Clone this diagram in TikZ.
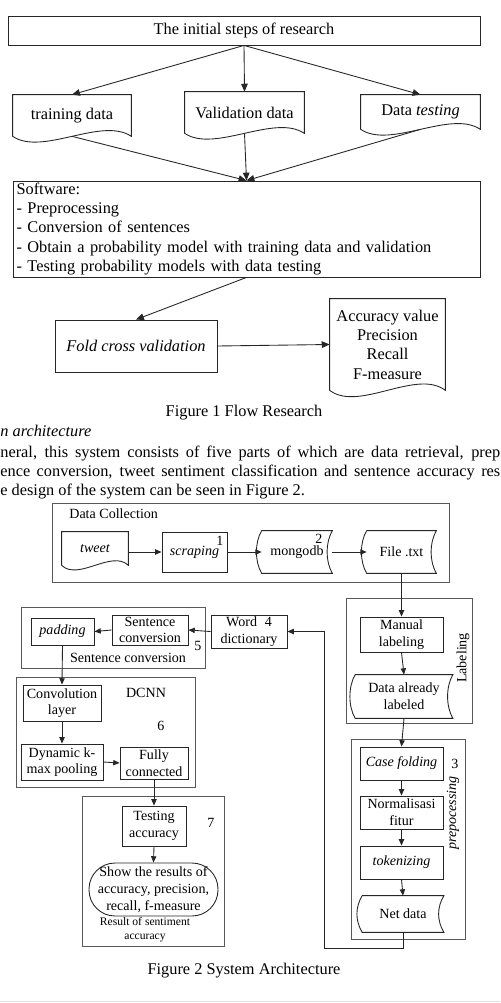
\documentclass[tikz,border=0pt]{standalone}
\usepackage{fontspec}
\setmainfont{Liberation Serif}
\usepackage{tikz}
\usetikzlibrary{arrows.meta,calc}

\newcommand\bigfont{\fontsize{9.3}{11}\selectfont}
\newcommand\smallfont{\fontsize{8}{9.5}\selectfont}
\newcommand\tinyfont{\fontsize{6.6}{8.1}\selectfont}

% document symbol: straight top, wavy bottom
\newcommand\docpath[2]{%
  \draw[pen] (#1.south west) -- (#1.north west) -- (#1.north east) -- (#1.south east)
    .. controls ($(#1.south east)!0.5!(#1.south)+(0,-#2)$) and ($(#1.south west)!0.5!(#1.south)+(0,#2)$) .. (#1.south west);}
% stored data symbol: curved left and right sides
\newcommand\storepath[1]{%
  \draw[pen] (#1.north west) -- (#1.north east)
    .. controls ($(#1.north east)+(-7,12)$) and ($(#1.south east)+(-7,-12)$) .. (#1.south east)
    -- (#1.south west)
    .. controls ($(#1.south west)+(-7,-12)$) and ($(#1.north west)+(-7,12)$) .. (#1.north west);}

\begin{document}
\begin{tikzpicture}[x=0.02cm, y=-0.02cm]
    % Styles
    \tikzstyle{pen} = [draw=black!85, line width=0.5pt]
    \tikzstyle{block} = [rectangle, pen, font=\bigfont, align=center, inner sep=1pt]
    \tikzstyle{sblock} = [rectangle, pen, font=\smallfont, align=center, inner sep=1pt]
    \tikzstyle{plain} = [rectangle, align=center, inner sep=1pt]
    \tikzstyle{frame} = [rectangle, draw=black!65, line width=0.5pt]
    \tikzstyle{lbl} = [font=\smallfont, inner sep=0pt]
    \tikzstyle{arrow} = [pen, -{Triangle[length=4.5pt,width=3.8pt]}]
    \tikzstyle{sarrow} = [pen, -{Triangle[length=3.6pt,width=3pt]}]

    \useasboundingbox (0,0) rectangle (500,1003);

    % Figure 1: nodes
    \node [block, minimum width=9.44cm, minimum height=0.58cm] (init) at (244,30.5) {The initial steps of research};
    \node [plain, font=\bigfont, minimum width=2.36cm, minimum height=0.82cm] (train) at (72,115.5) {training data};
    \node [plain, font=\bigfont, minimum width=2.38cm, minimum height=0.82cm] (valid) at (244.5,112.5) {Validation data};
    \node [plain, font=\bigfont, minimum width=2.38cm, minimum height=0.68cm] (test) at (420.5,112) {Data \textit{testing}};
    \docpath{train}{20}
    \docpath{valid}{20}
    \docpath{test}{20}
    \node [block, text width=9.2cm, align=left, inner xsep=0.07cm, inner ysep=0pt, minimum height=1.92cm] (soft) at (246.5,229)
        {Software:\\- Preprocessing\\- Conversion of sentences\\- Obtain a probability model with training data and validation\\- Testing probability models with data testing};
    \node [block, font=\bigfont\itshape, minimum width=3.24cm, minimum height=1.04cm] (fold) at (136,346) {Fold cross validation};
    \node [plain, font=\bigfont, minimum width=2.3cm, minimum height=1.82cm] (acc) at (387.5,344.5) {Accuracy value\\Precision\\Recall\\F-measure};
    \docpath{acc}{22}

    % Figure 1: arrows
    \draw [arrow] (init.south) -- (train.north);
    \draw [arrow] (init.south) -- (valid.north);
    \draw [arrow] (init.south) -- (test.north);
    \draw [arrow] (train.south) -- (soft.north);
    \draw [arrow] (valid.south) -- (soft.north);
    \draw [arrow] (test.south) -- (soft.north);
    \draw [arrow] (soft.south) -- (fold.north);
    \draw [arrow] (fold.east) -- (acc.west);

    % Caption and text
    \node [font=\bigfont] (cap1) at (244,413) {Figure 1 Flow Research};
    \node [font=\bigfont\itshape, anchor=west, inner sep=0pt] (sect) at (0,431) {n architecture};
    \node [font=\bigfont, anchor=west, inner sep=0pt] (par1) at (0,454)
        {\makebox[10cm][s]{neral, this system consists of five parts of which are data retrieval, prep}};
    \node [font=\bigfont, anchor=west, inner sep=0pt] (par2) at (0,473)
        {\makebox[10cm][s]{ence conversion, tweet sentiment classification and sentence accuracy res}};
    \node [font=\bigfont, anchor=west, inner sep=0pt] (par3) at (0,492) {e design of the system can be seen in Figure 2.};

    % Figure 2: frames
    \node [frame, minimum width=7.94cm, minimum height=1.58cm] (dcol) at (250.5,542.5) {};
    \node [frame, minimum width=2.52cm, minimum height=2.5cm] (labfr) at (409,660.5) {};
    \node [frame, minimum width=3.68cm, minimum height=1.22cm] (sconvfr) at (113,637.5) {};
    \node [frame, minimum width=3.58cm, minimum height=2.2cm] (dcnnfr) at (105.5,732) {};
    \node [frame, minimum width=2.84cm, minimum height=3.0cm] (resfr) at (153,871) {};
    \node [frame, minimum width=2.28cm, minimum height=4.0cm] (prepfr) at (408,839) {};

    % Figure 2: data collection
    \node [lbl, anchor=west] (dcollab) at (69,514) {Data Collection};
    \node [plain, font=\smallfont\itshape, minimum width=1.32cm, minimum height=0.66cm] (tweet) at (95,548.5) {tweet};
    \docpath{tweet}{16}
    \node [sblock, font=\smallfont\itshape, minimum width=1.3cm, minimum height=0.8cm] (scrap) at (194.5,552) {scraping};
    \node [lbl] (n1) at (220,541) {1};
    \node [plain, font=\smallfont, minimum width=1.4cm, minimum height=0.84cm] (mongo) at (297,552) {mongodb};
    \storepath{mongo}
    \node [lbl] (n2) at (319,539) {2};
    \node [plain, font=\smallfont, minimum width=1.38cm, minimum height=0.84cm] (filetxt) at (401.5,552) {File .txt};
    \storepath{filetxt}

    % Figure 2: labeling
    \node [sblock, minimum width=1.66cm, minimum height=0.7cm] (manual) at (401.5,634.5) {Manual\\labeling};
    \node [plain, font=\smallfont, minimum width=1.94cm, minimum height=0.86cm] (labeled) at (404,696.5) {Data already\\labeled};
    \storepath{labeled}
    \node [lbl, rotate=90] (labtxt) at (463,658) {Labeling};

    % Figure 2: sentence conversion
    \node [sblock, font=\smallfont\itshape, minimum width=1.26cm, minimum height=0.54cm] (pad) at (62.5,631.5) {padding};
    \node [sblock, minimum width=1.52cm, minimum height=0.6cm] (sconv) at (150,630) {Sentence\\conversion};
    \node [lbl] (n5) at (198,646) {5};
    \node [lbl] (sconvlab) at (128,658) {Sentence conversion};
    \node [sblock, minimum width=1.52cm, minimum height=0.66cm] (word) at (249,631.5) {Word\hspace{0.55em}4\\dictionary};

    % Figure 2: DCNN
    \node [sblock, minimum width=1.56cm, minimum height=0.72cm] (conv) at (62,703) {Convolution\\layer};
    \node [lbl] (dcnnlab) at (146,693) {DCNN};
    \node [lbl] (n6) at (161,726) {6};
    \node [sblock, minimum width=1.64cm, minimum height=0.72cm] (dyn) at (62,762) {Dynamic k-\\max pooling};
    \node [sblock, minimum width=1.36cm, minimum height=0.64cm] (full) at (154,763) {Fully\\connected};

    % Figure 2: result
    \node [sblock, minimum width=1.28cm, minimum height=0.8cm] (testacc) at (154,826) {Testing\\accuracy};
    \node [lbl] (n7) at (211,823) {7};
    \node [sblock, rounded corners=0.52cm, minimum width=2.58cm, minimum height=1.06cm, inner sep=0pt] (show) at (153.5,889.5)
        {Show the results of\\accuracy, precision,\\recall, f-measure};
    \node [lbl, font=\tinyfont, align=center] (reslab) at (145,930) {Result of sentiment\\accuracy};

    % Figure 2: prepocessing
    \node [sblock, font=\smallfont\itshape, minimum width=1.66cm, minimum height=0.66cm] (casef) at (401.5,763.5) {Case folding};
    \node [lbl] (n3) at (455,764) {3};
    \node [sblock, minimum width=1.66cm, minimum height=0.66cm] (norm) at (401.5,812.5) {Normalisasi\\fitur};
    \node [sblock, font=\smallfont\itshape, minimum width=1.66cm, minimum height=0.66cm] (token) at (401.5,862.5) {tokenizing};
    \node [plain, font=\smallfont, minimum width=1.62cm, minimum height=0.72cm] (netdata) at (403,914) {Net data};
    \storepath{netdata}
    \node [lbl, font=\smallfont\itshape, rotate=90] (preplab) at (453,813) {prepocessing};
    \coordinate (turn) at (324,948);

    % Figure 2: arrows
    \draw [sarrow] (tweet.east |- scrap.west) -- (scrap.west);
    \draw [sarrow] (scrap.east) -- (mongo.west);
    \draw [sarrow] (mongo.east) -- (filetxt.west);
    \draw [sarrow] (filetxt.south) -- (manual.north);
    \draw [sarrow] (manual.south) -- (labeled.north);
    \draw [sarrow] (labeled.south) -- (casef.north);
    \draw [sarrow] (casef.south) -- (norm.north);
    \draw [sarrow] (norm.south) -- (token.north);
    \draw [sarrow] (token.south) -- (netdata.north);
    \draw [sarrow] (netdata.south) |- (turn) |- (word.east);
    \draw [sarrow] (word.west) -- (sconv.east);
    \draw [sarrow] (sconv.west) -- (pad.east);
    \draw [sarrow] (pad.south) -- (conv.north);
    \draw [sarrow] (conv.south) -- (dyn.north);
    \draw [sarrow] (dyn.east) -- (full.west);
    \draw [sarrow] (full.south) -- (testacc.north);
    \draw [sarrow] (testacc.south) -- (show.north);

    \node [font=\bigfont] (cap2) at (244,971) {Figure 2 System Architecture};
    \draw [black!12, line width=0.8pt] (0,1001.5) -- (500,1001.5);
\end{tikzpicture}
\end{document}
